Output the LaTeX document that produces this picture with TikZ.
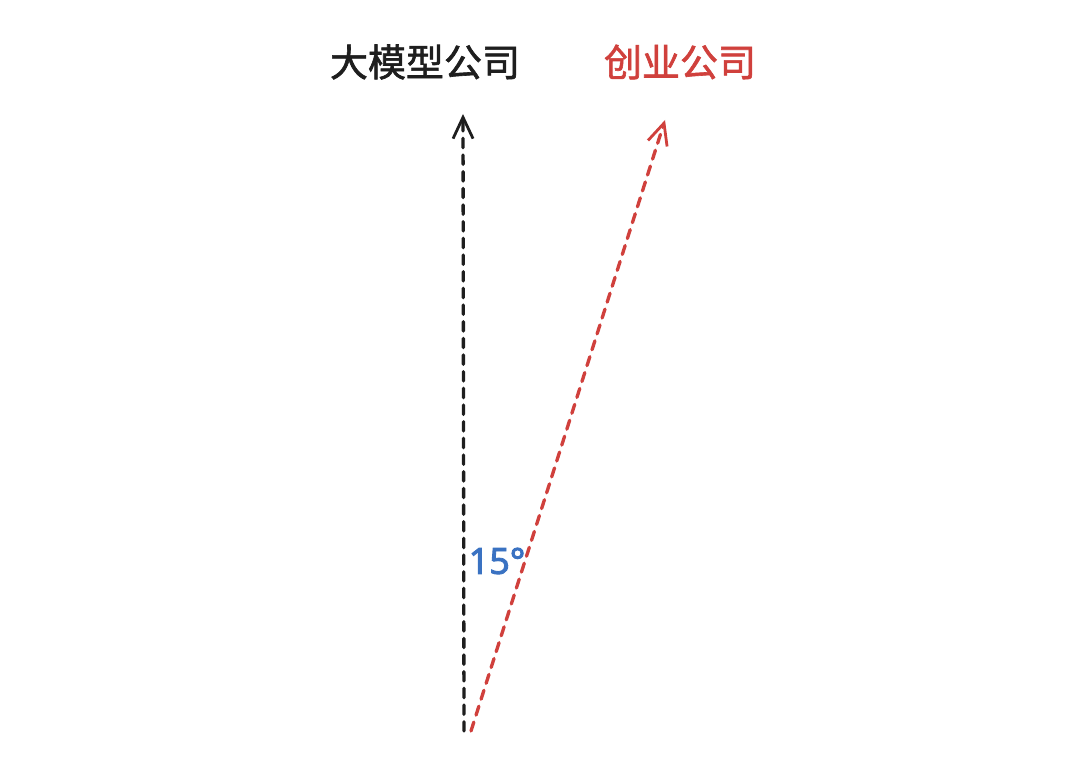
\documentclass[tikz,border=0pt]{standalone}
\usepackage{fontspec}
\newfontfamily\cjk{Noto Sans CJK SC}[FakeBold=1.6]
\newfontfamily\numfont{Noto Sans}[FakeBold=2.4]
\usetikzlibrary{arrows.meta}
\definecolor{redc}{HTML}{D0403C}
\definecolor{bluec}{HTML}{3A72C2}
\definecolor{blackc}{HTML}{1E1E1E}
\tikzset{
  conn/.style={line width=2.5pt, dash pattern=on 7pt off 5.5pt, line cap=round,
    -{Straight Barb[length=16pt,width=15pt,line width=2.1pt]}},
  lbl/.style={font=\cjk\fontsize{28.5}{31}\selectfont, inner sep=0pt}
}
\begin{document}
\begin{tikzpicture}[x=0.75pt,y=-0.75pt]
\useasboundingbox (0,0) rectangle (1080,763);
\fill[white] (0,0) rectangle (1080,763);
\node[lbl, text=blackc] (big) at (425,62) {大模型公司};
\node[lbl, text=redc] (startup) at (680,62) {创业公司};
\coordinate (b0) at (464,731);
\coordinate (b1) at (463,114);
\coordinate (r0) at (471,731);
\coordinate (r1) at (665,120);
\draw[conn, draw=blackc] (b0) -- (b1);
\draw[conn, draw=redc] (r0) -- (r1);
\node[font=\numfont\fontsize{27}{29}\selectfont, text=bluec, inner sep=0pt] (ang) at (497,561) {15°};
\end{tikzpicture}
\end{document}
